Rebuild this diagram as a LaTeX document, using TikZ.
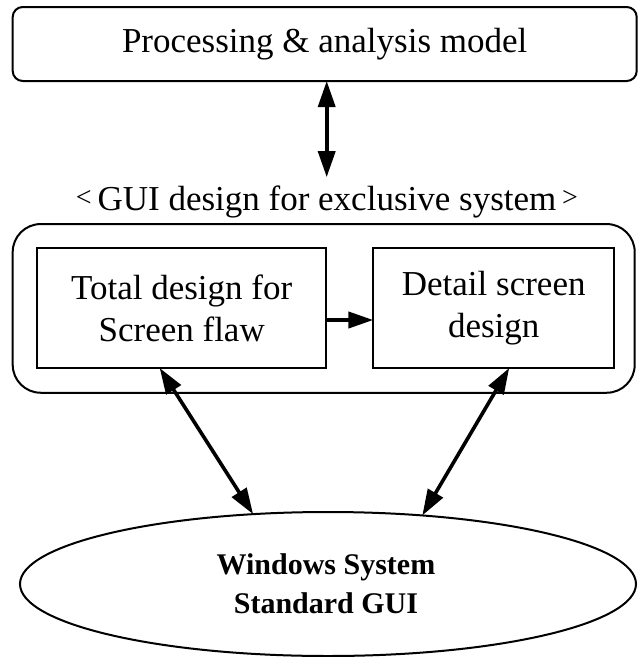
\documentclass[tikz,border=0pt]{standalone}
\usepackage{fontspec}
\setmainfont{Liberation Serif}
\usetikzlibrary{arrows.meta,shapes.geometric}
\tikzset{
  boxline/.style={draw=black, line width=2pt},
  roundbox/.style={boxline, rectangle, inner sep=0pt, outer sep=0pt},
  plainbox/.style={boxline, rectangle, inner sep=0pt, outer sep=0pt, align=center,
    font=\fontsize{35}{42}\selectfont},
  dbl/.style={line width=3.6pt, {Triangle[length=26pt,width=17pt]}-{Triangle[length=26pt,width=17pt]}},
  sgl/.style={line width=4pt, -{Triangle[length=25pt,width=16pt]}},
}
\newcommand{\smallbr}[1]{\raisebox{4pt}{\fontsize{28}{28}\selectfont #1}}
\begin{document}
\begin{tikzpicture}[x=1pt,y=-1pt]
\useasboundingbox (0,0) rectangle (638,657);
% top box
\node[roundbox, rounded corners=10pt, minimum width=624pt, minimum height=74pt,
      font=\fontsize{35}{42}\selectfont] (top) at (324.7,44) {Processing \& analysis model};
% GUI heading
\node[inner sep=0pt, anchor=base, font=\fontsize{35}{42}\selectfont] (gui) at (327,210)
  {\smallbr{<}\,GUI design for exclusive system\,\smallbr{>}};
% outer rounded container
\node[roundbox, rounded corners=28pt, minimum width=622pt, minimum height=168.7pt] (outer) at (323.7,308.4) {};
% inner boxes
\node[plainbox, minimum width=288.7pt, minimum height=120pt] (tl) at (181.7,308) {Total design for\\Screen flaw};
\node[plainbox, minimum width=240.7pt, minimum height=120pt] (tr) at (493.7,308) {Detail screen\\design};
% ellipse
\node[draw=black, line width=2pt, ellipse, inner sep=0pt, outer sep=0pt,
      minimum width=616pt, minimum height=144pt] (el) at (328,584) {};
\node[align=center, inner sep=0pt, font=\fontsize{30}{39}\selectfont\bfseries] (eltext) at (326,584)
  {Windows System\\Standard GUI};
% connectors
\draw[dbl] ([xshift=2pt]top.south) -- ([xshift=2pt,yshift=8pt]top.south |- gui.north);
\draw[sgl] ([yshift=-12pt]tl.east) -- ([yshift=-12pt]tr.west);
\draw[dbl] ([xshift=-22pt]tl.south) -- (el.137);
\draw[dbl] ([xshift=15.5pt]tr.south) -- (el.36);
\end{tikzpicture}
\end{document}
